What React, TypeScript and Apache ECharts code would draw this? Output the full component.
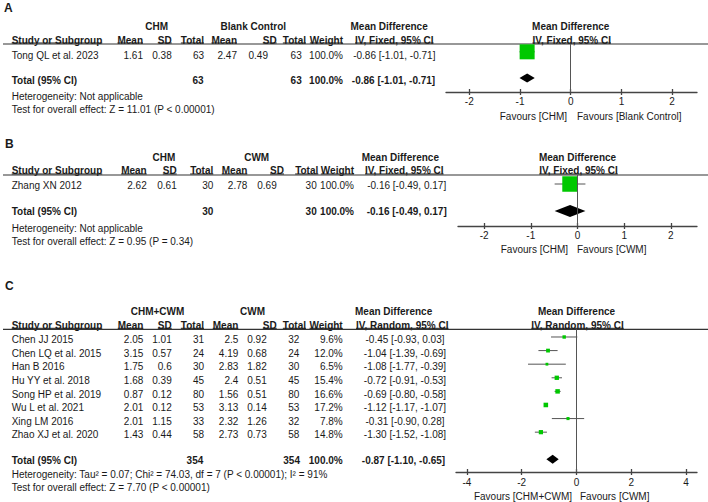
import React, { useEffect, useRef } from 'react';
import * as echarts from 'echarts';

const FONT = '"Liberation Sans", Arial, Helvetica, sans-serif';
const INK = '#1a1a1a';
const GREEN = '#00c800';
const LINE = '#555555';

// ---------- Panel A data ----------
const studiesA = ['Tong QL et al. 2023'];
const expMeanA = [1.61];
const expSdA = [0.38];
const expNA = [63];
const ctlMeanA = [2.47];
const ctlSdA = [0.49];
const ctlNA = [63];
const weightA = [100.0];
const mdA = [-0.86];
const ciLowA = [-1.01];
const ciHighA = [-0.71];
const totalNA = [63, 63];
const totalWeightA = 100.0;
const totalMdA = [-0.86, -1.01, -0.71];
const groupsA = ['CHM', 'Blank Control'];
const methodA = 'IV, Fixed, 95% CI';
const hetA = 'Heterogeneity: Not applicable';
const testA = 'Test for overall effect: Z = 11.01 (P < 0.00001)';
const favoursA = ['Favours [CHM]', 'Favours [Blank Control]'];

// ---------- Panel B data ----------
const studiesB = ['Zhang XN 2012'];
const expMeanB = [2.62];
const expSdB = [0.61];
const expNB = [30];
const ctlMeanB = [2.78];
const ctlSdB = [0.69];
const ctlNB = [30];
const weightB = [100.0];
const mdB = [-0.16];
const ciLowB = [-0.49];
const ciHighB = [0.17];
const totalNB = [30, 30];
const totalWeightB = 100.0;
const totalMdB = [-0.16, -0.49, 0.17];
const groupsB = ['CHM', 'CWM'];
const methodB = 'IV, Fixed, 95% CI';
const hetB = 'Heterogeneity: Not applicable';
const testB = 'Test for overall effect: Z = 0.95 (P = 0.34)';
const favoursB = ['Favours [CHM]', 'Favours [CWM]'];

// ---------- Panel C data ----------
const studiesC = [
  'Chen JJ 2015',
  'Chen LQ et al. 2015',
  'Han B 2016',
  'Hu YY et al. 2018',
  'Song HP et al. 2019',
  'Wu L et al. 2021',
  'Xing LM 2016',
  'Zhao XJ et al. 2020',
];
const expMeanC = [2.05, 3.15, 1.75, 1.68, 0.87, 2.01, 2.01, 1.43];
const expSdC = [1.01, 0.57, 0.6, 0.39, 0.12, 0.12, 1.15, 0.44];
const expNC = [31, 24, 30, 45, 80, 53, 33, 58];
const ctlMeanC = [2.5, 4.19, 2.83, 2.4, 1.56, 3.13, 2.32, 2.73];
const ctlSdC = [0.92, 0.68, 1.82, 0.51, 0.51, 0.14, 1.26, 0.73];
const ctlNC = [32, 24, 30, 45, 80, 53, 32, 58];
const weightC = [9.6, 12.0, 6.5, 15.4, 16.6, 17.2, 7.8, 14.8];
const mdC = [-0.45, -1.04, -1.08, -0.72, -0.69, -1.12, -0.31, -1.3];
const ciLowC = [-0.93, -1.39, -1.77, -0.91, -0.8, -1.17, -0.9, -1.52];
const ciHighC = [0.03, -0.69, -0.39, -0.53, -0.58, -1.07, 0.28, -1.08];
const totalNC = [354, 354];
const totalWeightC = 100.0;
const totalMdC = [-0.87, -1.1, -0.65];
const groupsC = ['CHM+CWM', 'CWM'];
const methodC = 'IV, Random, 95% CI';
const hetC = 'Heterogeneity: Tau\u00b2 = 0.07; Chi\u00b2 = 74.03, df = 7 (P < 0.00001); I\u00b2 = 91%';
const testC = 'Test for overall effect: Z = 7.70 (P < 0.00001)';
const favoursC = ['Favours [CHM+CWM]', 'Favours [CWM]'];

// ---------- shared labels ----------
const colHeads = ['Mean', 'SD', 'Total', 'Mean', 'SD', 'Total', 'Weight'];
const studyHead = 'Study or Subgroup';
const totalLabel = 'Total (95% CI)';
const mdHead = 'Mean Difference';
const ticksAB = [-2, -1, 0, 1, 2];
const ticksC = [-4, -2, 0, 2, 4];

// ---------- layouts (positions only) ----------
const layoutA = {
  letter: 'A', letterX: 4, letterY: 8,
  h1Y: 26.5, h2Y: 40, ruleY: 44,
  g1X: 156.7, g2X: 253.3,
  head: [143, 171.7, 204, 237, 276.7, 306, 343],
  cells: [143, 171.7, 204, 237, 268, 301.7, 343],
  totalCells: [203.5, 301.7, 343],
  mdHeadX: 350.5, ivHeadX: 355, mdX: 394.3, mdTotalX: 393.5,
  rowY0: 55, rowStep: 13.6, totalY: 80.3, hetY: 96.3, testY: 109.7,
  grid: { left: 446, top: 44, width: 251, height: 48 },
  xMin: -2.46, xMax: 2.49, yMin: -0.6, yMax: 3.08, totalRow: 2,
  labelMargin: 4, favY: 116.7, favLX: 567, favRX: 577,
  sqScale: 1.5, diamondHalf: 4.5,
};
const layoutB = {
  letter: 'B', letterX: 5, letterY: 143.7,
  h1Y: 157, h2Y: 170.7, ruleY: 175,
  g1X: 164, g2X: 256.7,
  head: [146.7, 176.7, 213.3, 247.3, 284, 318.3, 354],
  cells: [146.7, 176.7, 213.3, 247.3, 276.7, 316.7, 354],
  totalCells: [213.3, 316.7, 354],
  mdHeadX: 361.7, ivHeadX: 365, mdX: 406.7, mdTotalX: 406.7,
  rowY0: 185.5, rowStep: 13.6, totalY: 211, hetY: 228, testY: 241,
  grid: { left: 458, top: 175, width: 239, height: 51 },
  xMin: -2.56, xMax: 2.56, yMin: -0.667, yMax: 3.11, totalRow: 2,
  labelMargin: 4, favY: 249, favLX: 568, favRX: 577,
  sqScale: 1.55, diamondHalf: 6,
};
const layoutC = {
  letter: 'C', letterX: 5, letterY: 286,
  h1Y: 311.7, h2Y: 325, ruleY: 329.3,
  g1X: 157.5, g2X: 252.5,
  head: [143.3, 171.7, 204, 238.3, 276.7, 306, 342.7],
  cells: [143.3, 171.7, 204, 238.3, 266.7, 299.3, 342.7],
  totalCells: [203.3, 300, 342.7],
  mdHeadX: 355, ivHeadX: 356, mdX: 405, mdTotalX: 403.5,
  rowY0: 339.7, rowStep: 13.6, totalY: 460.3, hetY: 474.5, testY: 487.8,
  grid: { left: 456, top: 329.3, width: 241, height: 142.7 },
  xMin: -4.4, xMax: 4.4, yMin: -0.566, yMax: 9.93, totalRow: 9,
  labelMargin: 5, favY: 496, favLX: 572, favRX: 580,
  sqScale: 1.1, diamondHalf: 4.5,
};

const panels = [
  {
    L: layoutA, ticks: ticksAB, studies: studiesA, expMean: expMeanA, expSd: expSdA, expN: expNA,
    ctlMean: ctlMeanA, ctlSd: ctlSdA, ctlN: ctlNA, weight: weightA, md: mdA, lo: ciLowA, hi: ciHighA,
    totalN: totalNA, totalWeight: totalWeightA, totalMd: totalMdA, groups: groupsA, method: methodA,
    het: hetA, test: testA, favours: favoursA,
  },
  {
    L: layoutB, ticks: ticksAB, studies: studiesB, expMean: expMeanB, expSd: expSdB, expN: expNB,
    ctlMean: ctlMeanB, ctlSd: ctlSdB, ctlN: ctlNB, weight: weightB, md: mdB, lo: ciLowB, hi: ciHighB,
    totalN: totalNB, totalWeight: totalWeightB, totalMd: totalMdB, groups: groupsB, method: methodB,
    het: hetB, test: testB, favours: favoursB,
  },
  {
    L: layoutC, ticks: ticksC, studies: studiesC, expMean: expMeanC, expSd: expSdC, expN: expNC,
    ctlMean: ctlMeanC, ctlSd: ctlSdC, ctlN: ctlNC, weight: weightC, md: mdC, lo: ciLowC, hi: ciHighC,
    totalN: totalNC, totalWeight: totalWeightC, totalMd: totalMdC, groups: groupsC, method: methodC,
    het: hetC, test: testC, favours: favoursC,
  },
];

const f2 = (v: number) => v.toFixed(2);
const ciText = (m: number, l: number, h: number) => `${f2(m)} [${f2(l)}, ${f2(h)}]`;
const pct = (w: number) => `${w.toFixed(1)}%`;

function txt(text: string, x: number, y: number, align = 'left', bold = false, size = 10) {
  return {
    type: 'text',
    x,
    y,
    silent: true,
    style: {
      text,
      fill: INK,
      fontFamily: FONT,
      fontSize: size,
      fontWeight: bold ? 'bold' : 'normal',
      textAlign: align,
      textVerticalAlign: 'middle',
      align,
      verticalAlign: 'middle',
    },
  };
}

function hline(x1: number, x2: number, y: number, w = 1, color = INK) {
  return {
    type: 'line',
    silent: true,
    shape: { x1, y1: y, x2, y2: y },
    style: { stroke: color, lineWidth: w },
  };
}

export default function App() {
  const ref = useRef<HTMLDivElement>(null);

  useEffect(() => {
    if (!ref.current) return;
    const chart = echarts.init(ref.current, undefined, { renderer: 'svg' });

    const ctx = document.createElement('canvas').getContext('2d')!;
    const measure = (t: string, bold: boolean) => {
      ctx.font = `${bold ? 'bold ' : ''}10px "Liberation Sans", Arial, sans-serif`;
      return ctx.measureText(t).width;
    };
    const headU = (text: string, x: number, y: number, align: string, uy: number) => {
      const w = measure(text, true);
      const start = align === 'left' ? x : align === 'right' ? x - w : x - w / 2;
      return [txt(text, x, y, align, true), hline(start, start + w, uy, 1, INK)];
    };

    const graphics: any[] = [];
    const grids: any[] = [];
    const xAxes: any[] = [];
    const yAxes: any[] = [];
    const series: any[] = [];

    panels.forEach((p, gi) => {
      const L = p.L;
      const zeroX = L.grid.left + ((0 - L.xMin) / (L.xMax - L.xMin)) * L.grid.width;
      const uy = L.ruleY - 1;

      graphics.push(txt(L.letter, L.letterX, L.letterY, 'left', true, 12));
      graphics.push(txt(p.groups[0], L.g1X, L.h1Y, 'center', true));
      graphics.push(txt(p.groups[1], L.g2X, L.h1Y, 'center', true));
      graphics.push(txt(mdHead, L.mdHeadX, L.h1Y, 'left', true));
      graphics.push(txt(mdHead, zeroX, L.h1Y, 'center', true));

      graphics.push(...headU(studyHead, 11.7, L.h2Y, 'left', uy));
      colHeads.forEach((h, k) => graphics.push(...headU(h, L.head[k], L.h2Y, 'right', uy)));
      graphics.push(...headU(p.method, L.ivHeadX, L.h2Y, 'left', uy));
      graphics.push(...headU(p.method, zeroX + 1, L.h2Y, 'center', uy));
      graphics.push(hline(3, 708, L.ruleY, 1.2, '#333'));

      p.studies.forEach((s, i) => {
        const y = L.rowY0 + i * L.rowStep;
        const vals = [
          String(p.expMean[i]), String(p.expSd[i]), String(p.expN[i]),
          String(p.ctlMean[i]), String(p.ctlSd[i]), String(p.ctlN[i]), pct(p.weight[i]),
        ];
        graphics.push(txt(s, 11.7, y, 'left'));
        vals.forEach((v, k) => graphics.push(txt(v, L.cells[k], y, 'right')));
        graphics.push(txt(ciText(p.md[i], p.lo[i], p.hi[i]), L.mdX, y, 'center'));
      });

      graphics.push(txt(totalLabel, 11.7, L.totalY, 'left', true));
      graphics.push(txt(String(p.totalN[0]), L.totalCells[0], L.totalY, 'right', true));
      graphics.push(txt(String(p.totalN[1]), L.totalCells[1], L.totalY, 'right', true));
      graphics.push(txt(pct(p.totalWeight), L.totalCells[2], L.totalY, 'right', true));
      graphics.push(txt(ciText(p.totalMd[0], p.totalMd[1], p.totalMd[2]), L.mdTotalX, L.totalY, 'center', true));
      graphics.push(txt(p.het, 11.7, L.hetY, 'left'));
      graphics.push(txt(p.test, 11.7, L.testY, 'left'));
      graphics.push(txt(p.favours[0], L.favLX, L.favY, 'right'));
      graphics.push(txt(p.favours[1], L.favRX, L.favY, 'left'));

      grids.push({ ...L.grid, containLabel: false });
      const axisLineStyle = { color: '#444', width: 1.3 };
      xAxes.push({
        type: 'value', gridIndex: gi, min: L.xMin, max: L.xMax, position: 'bottom',
        axisLine: { show: true, onZero: false, lineStyle: axisLineStyle },
        axisTick: { show: true, inside: false, length: 3, customValues: p.ticks, lineStyle: axisLineStyle },
        axisLabel: {
          show: true, customValues: p.ticks, margin: L.labelMargin,
          fontSize: 10, fontFamily: FONT, color: INK,
        },
        splitLine: { show: false },
      });
      xAxes.push({
        type: 'value', gridIndex: gi, min: L.xMin, max: L.xMax, position: 'bottom',
        axisLine: { show: false, onZero: false },
        axisTick: { show: true, inside: true, length: 3, customValues: p.ticks, lineStyle: axisLineStyle },
        axisLabel: { show: false },
        splitLine: { show: false },
      });
      yAxes.push({
        type: 'value', gridIndex: gi, min: L.yMin, max: L.yMax, inverse: true, show: false,
        splitLine: { show: false },
      });

      // CI lines
      series.push({
        type: 'custom',
        xAxisIndex: gi * 2,
        yAxisIndex: gi,
        z: 2,
        silent: true,
        encode: { x: [0, 1], y: 2 },
        data: p.studies.map((_, i) => [p.lo[i], p.hi[i], i]),
        renderItem: (_params: any, api: any) => {
          const a = api.coord([api.value(0), api.value(2)]);
          const b = api.coord([api.value(1), api.value(2)]);
          return {
            type: 'line',
            shape: { x1: a[0], y1: a[1], x2: b[0], y2: b[1] },
            style: { stroke: LINE, lineWidth: 1 },
          };
        },
      });

      // squares
      series.push({
        type: 'scatter',
        xAxisIndex: gi * 2,
        yAxisIndex: gi,
        z: 4,
        silent: true,
        symbol: 'rect',
        symbolSize: (v: number[]) => L.sqScale * Math.sqrt(v[2]),
        itemStyle: { color: GREEN, opacity: 1 },
        data: p.studies.map((_, i) => [p.md[i], i, p.weight[i]]),
        markLine: {
          silent: true,
          symbol: ['none', 'none'],
          label: { show: false },
          lineStyle: { color: LINE, width: 1, type: 'solid' },
          data: [{ xAxis: 0 }],
        },
      });

      // total diamond
      series.push({
        type: 'custom',
        xAxisIndex: gi * 2,
        yAxisIndex: gi,
        z: 4,
        silent: true,
        encode: { x: [0, 1, 2], y: 3 },
        data: [[p.totalMd[1], p.totalMd[0], p.totalMd[2], L.totalRow]],
        renderItem: (_params: any, api: any) => {
          const lo = api.coord([api.value(0), api.value(3)]);
          const md = api.coord([api.value(1), api.value(3)]);
          const hi = api.coord([api.value(2), api.value(3)]);
          const h = L.diamondHalf;
          return {
            type: 'polygon',
            shape: {
              points: [
                [lo[0], lo[1]],
                [md[0], md[1] - h],
                [hi[0], hi[1]],
                [md[0], md[1] + h],
              ],
            },
            style: { fill: '#000' },
          };
        },
      });
    });

    chart.setOption({
      animation: false,
      backgroundColor: '#ffffff',
      grid: grids,
      xAxis: xAxes,
      yAxis: yAxes,
      series,
      graphic: { elements: graphics },
    });

    return () => chart.dispose();
  }, []);

  return (
    <div
      ref={ref}
      style={{ position: 'absolute', left: 0, top: 0, width: 708, height: 502, background: '#fff' }}
    />
  );
}
